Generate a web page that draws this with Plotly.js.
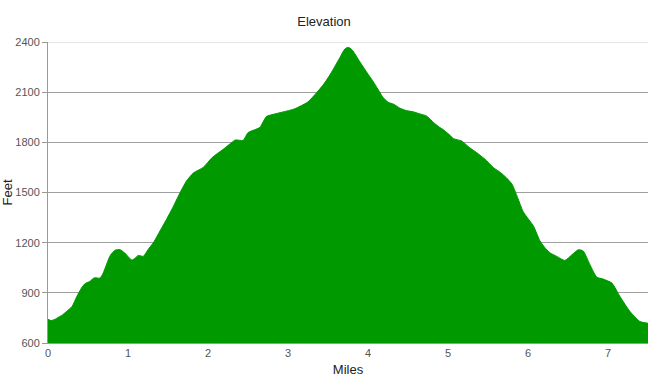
<!DOCTYPE html>
<html>
<head>
<meta charset="utf-8">
<script src="https://cdn.plot.ly/plotly-3.0.1.min.js"></script>
<style>html,body{margin:0;padding:0;background:#fff;}#chart{width:648px;height:390px;}</style>
</head>
<body>
<div id="chart"></div>
<script>
const miles = [0.00,0.04,0.08,0.13,0.18,0.23,0.30,0.36,0.42,0.46,0.52,0.58,0.65,0.69,0.74,0.78,0.84,0.90,0.96,1.01,1.05,1.09,1.13,1.19,1.25,1.32,1.40,1.48,1.56,1.65,1.73,1.82,1.94,2.05,2.19,2.30,2.34,2.44,2.50,2.60,2.65,2.73,2.82,2.94,3.07,3.17,3.25,3.36,3.45,3.53,3.65,3.71,3.75,3.80,3.90,4.00,4.07,4.19,4.25,4.32,4.40,4.48,4.57,4.65,4.73,4.82,4.90,4.94,5.03,5.07,5.17,5.26,5.36,5.46,5.57,5.66,5.73,5.80,5.87,5.94,6.07,6.15,6.22,6.28,6.36,6.46,6.55,6.63,6.69,6.775,6.86,6.94,7.05,7.15,7.275,7.35,7.40,7.50];
const elevation = [742,734,740,754,768,788,818,878,930,954,968,990,988,1018,1080,1125,1155,1158,1138,1112,1096,1108,1124,1118,1158,1202,1270,1338,1410,1498,1568,1618,1650,1708,1758,1800,1814,1812,1858,1878,1890,1954,1968,1982,1998,2020,2042,2098,2150,2208,2308,2358,2368,2354,2280,2208,2160,2068,2040,2028,2004,1990,1982,1970,1958,1918,1888,1876,1840,1822,1808,1772,1738,1700,1648,1618,1588,1550,1470,1385,1298,1210,1165,1138,1118,1094,1128,1158,1150,1068,994,982,958,878,788,750,728,718];
const xTicks = [0,1,2,3,4,5,6,7];
const yTicks = [600,900,1200,1500,1800,2100,2400];

const trace = {
  x: miles, y: elevation, type: 'scatter', mode: 'lines',
  fill: 'tozeroy', fillcolor: '#009900',
  line: {color: '#009900', width: 1, shape: 'spline', smoothing: 0.6},
  hoverinfo: 'x+y'
};

const layout = {
  width: 648, height: 390,
  margin: {l: 48, r: 0, t: 42, b: 47},
  paper_bgcolor: '#fff', plot_bgcolor: '#fff',
  font: {family: 'Liberation Sans, Arial, sans-serif', color: '#444', size: 11},
  title: {text: 'Elevation', font: {size: 13, color: '#222'}, x: 0.5, xanchor: 'center', y: 0.945, yanchor: 'middle'},
  showlegend: false,
  xaxis: {
    range: [0, 7.5], tickvals: xTicks, ticktext: xTicks.map(String),
    showgrid: false, zeroline: false, showline: true, linecolor: '#999', linewidth: 1,
    ticks: '', ticklen: 0,
    tickfont: {size: 11, color: '#555'},
    title: {text: 'Miles', font: {size: 13, color: '#222'}, standoff: 6}
  },
  yaxis: {
    range: [600, 2400], tickvals: yTicks, ticktext: yTicks.map(String),
    showgrid: true, gridcolor: '#a0a0a0', gridwidth: 1,
    zeroline: false, showline: true, linecolor: '#999', linewidth: 1,
    ticks: 'outside', ticklen: 5, tickcolor: '#999',
    tickfont: {size: 11, color: '#555'},
    title: {text: 'Feet', font: {size: 13, color: '#222'}, standoff: 6}
  },
  shapes: [{type: 'line', xref: 'paper', x0: 0, x1: 1, yref: 'y', y0: 2400, y1: 2400, line: {color: '#d0d0d0', width: 1}, layer: 'above'}]
};

Plotly.newPlot('chart', [trace], layout, {displayModeBar: false, staticPlot: true});
</script>
</body>
</html>
